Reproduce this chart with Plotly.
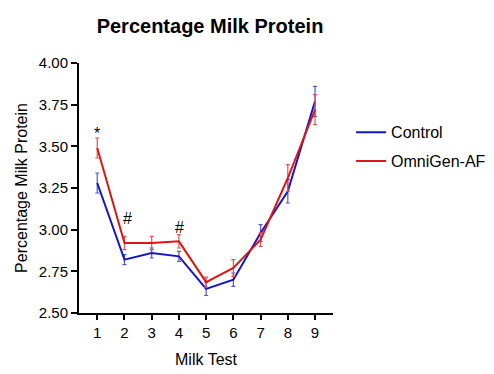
import plotly.graph_objects as go

milk_test = [1, 2, 3, 4, 5, 6, 7, 8, 9]
control = [3.28, 2.82, 2.86, 2.84, 2.645, 2.70, 2.98, 3.23, 3.77]
control_err = [0.06, 0.03, 0.03, 0.03, 0.04, 0.04, 0.05, 0.07, 0.09]
omnigen = [3.49, 2.92, 2.92, 2.93, 2.685, 2.77, 2.94, 3.31, 3.72]
omnigen_err = [0.06, 0.04, 0.04, 0.04, 0.03, 0.05, 0.04, 0.08, 0.09]
y_ticks = [2.50, 2.75, 3.00, 3.25, 3.50, 3.75, 4.00]

marks = [("*", 1.0, 3.58), ("#", 2.12, 3.07), ("#", 4.03, 3.015)]

FONT = "Liberation Sans, Arial, sans-serif"

fig = go.Figure()
fig.add_trace(go.Scatter(
    x=milk_test, y=control, mode="lines", name="Control", legendgroup="c",
    line=dict(color="#1515c8", width=2),
    error_y=dict(type="data", array=control_err, color="#5555d5", thickness=1.2, width=2),
))
fig.add_trace(go.Scatter(
    x=milk_test, y=omnigen, mode="lines", name="OmniGen-AF", legendgroup="o",
    line=dict(color="#dd1515", width=2),
    error_y=dict(type="data", array=omnigen_err, color="#dd5555", thickness=1.2, width=2),
))

for txt, xx, yy in marks:
    fig.add_annotation(x=xx, y=yy, text=txt, showarrow=False,
                       font=dict(family=FONT, size=16, color="black"))

fig.update_layout(
    width=494, height=374,
    paper_bgcolor="white", plot_bgcolor="white",
    margin=dict(l=71, r=168, t=55, b=69),
    font=dict(family=FONT, size=15, color="black"),
    title=dict(text="<b>Percentage Milk Protein</b>", x=0.409, xanchor="center",
               y=0.951, yanchor="middle", font=dict(size=20, family=FONT)),
    legend=dict(x=1.067, y=0.665, xanchor="left", yanchor="middle",
                font=dict(size=16, family=FONT), tracegroupgap=5,
                itemwidth=30, bgcolor="rgba(0,0,0,0)"),
    showlegend=True,
)
fig.update_xaxes(
    range=[0.33, 9.66], tickmode="array", tickvals=milk_test,
    ticktext=[str(v) for v in milk_test], automargin=False,
    showline=True, linecolor="black", linewidth=2,
    ticks="outside", ticklen=5, tickwidth=2, tickcolor="black",
    showgrid=False, zeroline=False,
    title=dict(text="Milk Test", font=dict(size=16), standoff=14),
)
fig.update_yaxes(
    range=[2.5, 4.0], tickmode="array", tickvals=y_ticks,
    ticktext=[f"{v:.2f}" for v in y_ticks], automargin=False,
    showline=True, linecolor="black", linewidth=2,
    ticks="outside", ticklen=6, tickwidth=2, tickcolor="black",
    showgrid=False, zeroline=False,
    title=dict(text="Percentage Milk Protein", font=dict(size=16), standoff=7),
)

fig.write_html("out.html")
